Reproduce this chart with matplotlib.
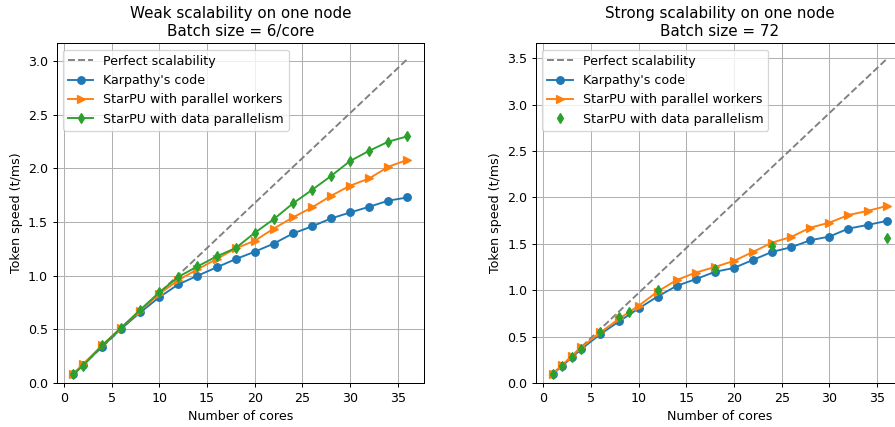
import matplotlib
matplotlib.use("Agg")
from matplotlib import pyplot as plt

# Weak scalability (batch size = 6/core)
weak_cores = [1, 2, 4, 6, 8, 10, 12, 14, 16, 18, 20, 22, 24, 26, 28, 30, 32, 34, 36]
weak_karpathy = [0.084, 0.168, 0.34, 0.506, 0.658, 0.80, 0.92, 1.0, 1.078, 1.155,
                 1.224, 1.30, 1.394, 1.46, 1.534, 1.59, 1.643, 1.70, 1.73]
weak_workers = [0.085, 0.177, 0.35, 0.515, 0.675, 0.83, 0.96, 1.06, 1.155, 1.255,
                1.326, 1.44, 1.544, 1.637, 1.745, 1.84, 1.907, 2.016, 2.08]
weak_data = [0.084, 0.16, 0.35, 0.515, 0.683, 0.845, 0.99, 1.087, 1.18, 1.258,
             1.40, 1.528, 1.674, 1.80, 1.93, 2.07, 2.165, 2.25, 2.30]
weak_perfect_cores = [1, 36]
weak_perfect = [0.084, 3.02]

# Strong scalability (batch size = 72)
strong_cores = [1, 2, 3, 4, 6, 8, 10, 12, 14, 16, 18, 20, 22, 24, 26, 28, 30, 32, 34, 36]
strong_karpathy = [0.097, 0.186, 0.275, 0.366, 0.527, 0.667, 0.803, 0.932, 1.047, 1.119,
                   1.198, 1.24, 1.327, 1.413, 1.463, 1.538, 1.578, 1.664, 1.703, 1.746]
strong_workers = [0.097, 0.197, 0.287, 0.384, 0.545, 0.696, 0.832, 0.986, 1.11, 1.19,
                  1.25, 1.316, 1.413, 1.513, 1.574, 1.674, 1.728, 1.81, 1.854, 1.907]
strong_data_cores = [1, 2, 3, 4, 6, 8, 9, 12, 18, 24, 36]
strong_data = [0.097, 0.186, 0.276, 0.366, 0.545, 0.713, 0.767, 1.004, 1.233, 1.477, 1.56]
strong_perfect_cores = [1, 36]
strong_perfect = [0.097, 3.49]

dpi = 90.7
fig = plt.figure(figsize=(895 / dpi, 427 / dpi), dpi=dpi)
ax1 = fig.add_axes([0.0634, 0.1030, 0.4104, 0.7955])
ax2 = fig.add_axes([0.5989, 0.1030, 0.4104, 0.7955])

# Weak
ax1.plot(weak_perfect_cores, weak_perfect, '--', color='gray', label='Perfect scalability')
ax1.plot(weak_cores, weak_karpathy, 'o-', label="Karpathy's code")
ax1.plot(weak_cores, weak_workers, '>-', label='StarPU with parallel workers')
ax1.plot(weak_cores, weak_data, 'd-', label='StarPU with data parallelism')
ax1.set_title('Weak scalability on one node\nBatch size = 6/core')

# Strong
ax2.plot(strong_perfect_cores, strong_perfect, '--', color='gray', label='Perfect scalability')
ax2.plot(strong_cores, strong_karpathy, 'o-', label="Karpathy's code")
ax2.plot(strong_cores, strong_workers, '>-', label='StarPU with parallel workers')
ax2.plot(strong_data_cores, strong_data, 'd', label='StarPU with data parallelism')
ax2.set_title('Strong scalability on one node\nBatch size = 72')

for ax in (ax1, ax2):
    ax.set_xlim(-0.75, 37.75)
    ax.set_ylim(bottom=0)
    ax.set_xlabel('Number of cores')
    ax.set_ylabel('Token speed (t/ms)')
    ax.grid(True)
    ax.legend(loc='upper left')

fig.savefig('out.png', dpi=dpi)
